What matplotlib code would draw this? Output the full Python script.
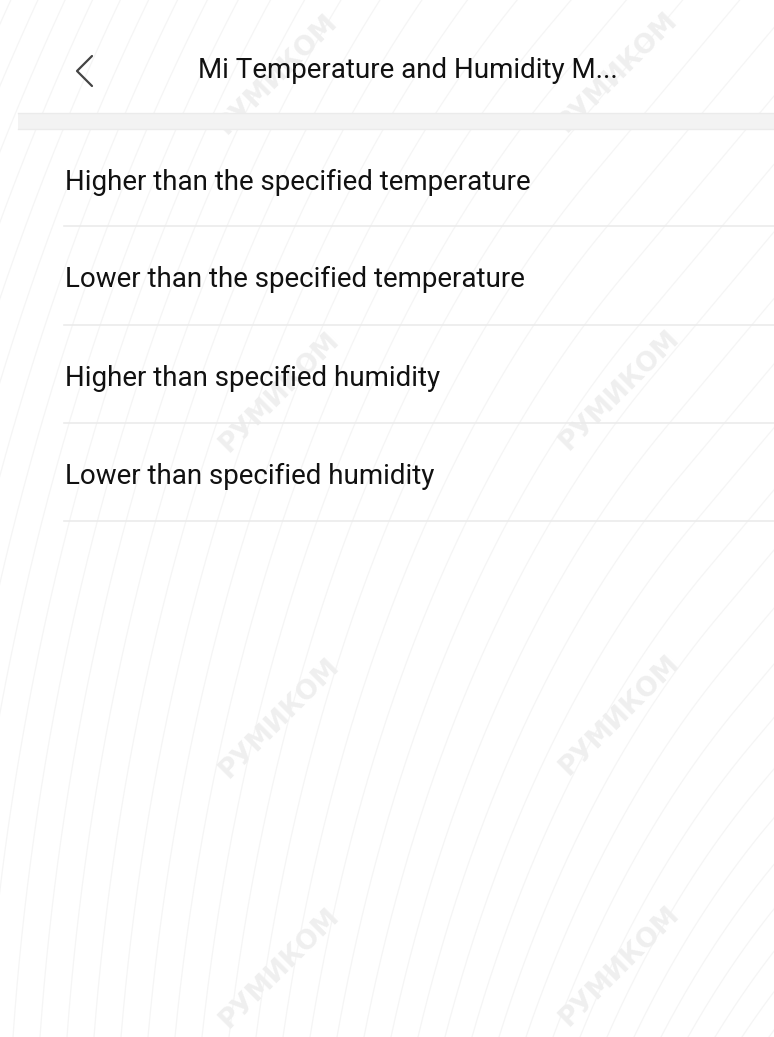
import matplotlib.pyplot as plt
import numpy as np

plt.rcParams['font.family'] = ['Roboto', 'DejaVu Sans']

title = 'Mi Temperature and Humidity M...'
items = ['Higher than the specified temperature',
         'Lower than the specified temperature',
         'Higher than specified humidity',
         'Lower than specified humidity']
item_y = [182, 279, 378, 476]
divider_y = [226, 325, 423, 521]
wm_x = [278, 618, 280, 620, 280, 620, 280, 620]
wm_y = [74, 72, 392, 390, 718, 715, 968, 966]

W, H = 774, 1037
fig = plt.figure(figsize=(W / 100, H / 100), dpi=100)
ax = fig.add_axes([0, 0, 1, 1])
ax.set_xlim(0, W)
ax.set_ylim(H, 0)
ax.axis('off')

# faint background strokes, traced upward from the bottom edge
for xb in np.arange(-500, 780, 27):
    xs, ys = [xb], [H]
    x, y = float(xb), float(H)
    while y > 0:
        th = 4 + 0.02 * (H - y) + 5.4e-5 * max(x, 0) ** 2
        th = min(th, 40)
        y -= 5
        x += 5 * np.tan(np.radians(th))
        xs.append(x)
        ys.append(y)
    ax.plot(xs, ys, color='#f5f5f5', lw=0.9, zorder=0)

# watermark
for x, y in zip(wm_x, wm_y):
    ax.text(x, y, 'РУМИКОМ', rotation=45, fontsize=19, fontweight='bold',
            color='#efefef', ha='center', va='center', zorder=1,
            family='DejaVu Sans')

# header
ax.plot([92, 77, 92], [56, 71, 86], color='#444444', lw=1.6,
        solid_capstyle='round', zorder=3)
ax.text(408, 71, title, fontsize=20, color='#111111',
        ha='center', va='center', zorder=3)

ax.add_patch(plt.Rectangle((18, 113), W - 18, 16, facecolor='#f3f3f3',
                           edgecolor='none', zorder=2))
ax.plot([18, W], [113, 113], color='#ebebeb', lw=1, zorder=2)
ax.plot([18, W], [129, 129], color='#ebebeb', lw=1, zorder=2)

for label, y in zip(items, item_y):
    ax.text(65, y, label, fontsize=20, color='#111111',
            ha='left', va='center', zorder=3)
for y in divider_y:
    ax.plot([64, W], [y, y], color='#ebebeb', lw=1.2, zorder=2)

fig.savefig('out.png', dpi=100, facecolor='white')
